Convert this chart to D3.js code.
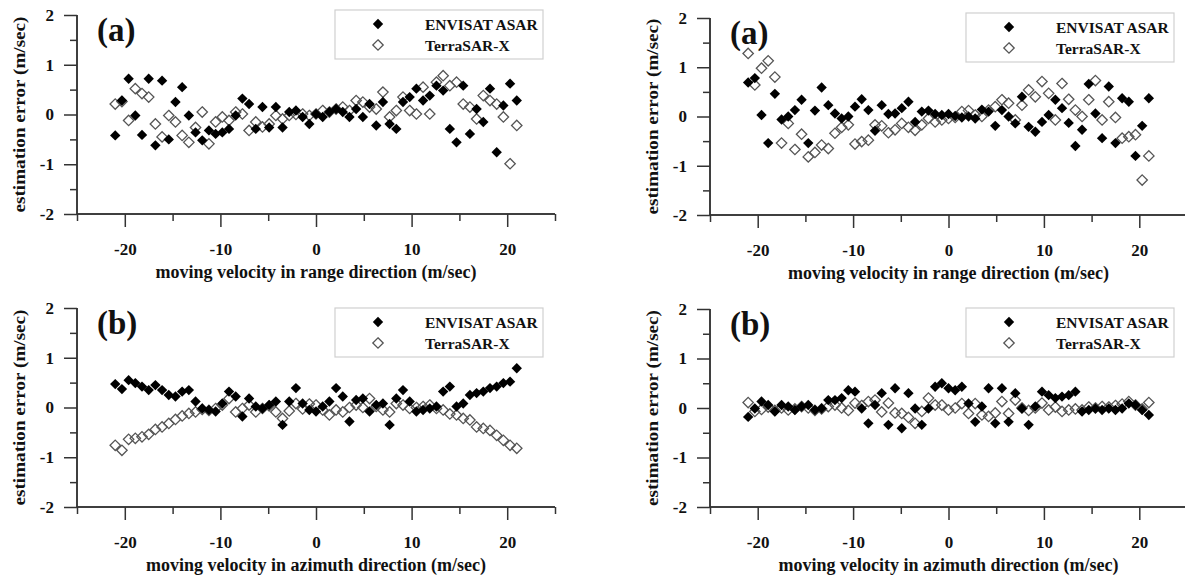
<!DOCTYPE html>
<html>
<head>
<meta charset="utf-8">
<script src="https://cdn.jsdelivr.net/npm/d3@7"></script>
<style>
	body { margin: 0; background: #fff; }
	svg text { font-family: "Liberation Serif", "Times New Roman", serif; font-weight: bold; fill: #111; }
	.axis path, .axis line { stroke: #333; stroke-width: 1.5; }
	.legend-box { fill: #fff; stroke: #d0d0d0; stroke-width: 1.2; }
</style>
</head>
<body>
<svg id="chart" width="1185" height="583"></svg>
<script>
// moving velocity of the simulated targets (m/sec), shared by every panel
const velocity = [-21.0, -20.3, -19.6, -18.9, -18.2, -17.5, -16.8, -16.1, -15.4, -14.7,
	-14.0, -13.3, -12.6, -11.9, -11.2, -10.5, -9.8, -9.1, -8.4, -7.7,
	-7.0, -6.3, -5.6, -4.9, -4.2, -3.5, -2.8, -2.1, -1.4, -0.7,
	0.0, 0.7, 1.4, 2.1, 2.8, 3.5, 4.2, 4.9, 5.6, 6.3,
	7.0, 7.7, 8.4, 9.1, 9.8, 10.5, 11.2, 11.9, 12.6, 13.3,
	14.0, 14.7, 15.4, 16.1, 16.8, 17.5, 18.2, 18.9, 19.6, 20.3, 21.0];

// estimation error (m/sec) - range direction, left panel
const rangeEnvisatL = [-0.42, 0.28, 0.72, -0.02, -0.41, 0.72, -0.62, 0.68, -0.50, 0.25,
	0.55, -0.02, -0.36, -0.52, -0.32, -0.39, -0.36, -0.29, -0.02, 0.32,
	0.21, -0.29, 0.15, -0.26, 0.15, -0.26, 0.05, 0.08, -0.05, -0.19,
	0.01, -0.05, 0.05, 0.11, 0.05, -0.05, 0.11, -0.05, 0.21, -0.22,
	0.25, -0.19, -0.29, 0.25, 0.35, 0.52, 0.28, 0.38, 0.58, 0.48,
	-0.29, -0.56, 0.58, -0.39, 0.11, -0.15, 0.52, -0.76, 0.18, 0.62, 0.28];
const rangeTerraL = [0.21, 0.26, -0.12, 0.52, 0.42, 0.35, -0.19, -0.45, -0.02, -0.15,
	-0.42, -0.56, -0.26, 0.05, -0.59, -0.15, -0.05, -0.12, 0.05, 0.01,
	-0.32, -0.15, -0.25, -0.19, -0.02, -0.09, -0.02, 0.00, 0.01, -0.02,
	0.01, 0.08, 0.05, 0.11, 0.15, 0.08, 0.28, 0.25, 0.15, 0.11,
	0.45, -0.05, 0.08, 0.35, 0.08, 0.01, 0.55, 0.01, 0.65, 0.78,
	0.58, 0.65, 0.21, 0.15, -0.09, 0.38, 0.28, 0.21, -0.05, -0.99, -0.22];

// range direction, right panel
const rangeEnvisatR = [0.69, 0.78, 0.03, -0.54, 0.46, -0.06, 0.00, 0.13, 0.34, -0.54,
	0.12, 0.59, 0.23, 0.06, -0.04, 0.00, 0.20, 0.35, 0.13, -0.29,
	0.23, 0.05, 0.06, 0.17, 0.30, -0.11, 0.10, 0.12, 0.05, 0.03,
	0.05, 0.01, -0.02, 0.00, -0.04, 0.14, 0.10, -0.19, 0.13, 0.00,
	-0.14, 0.40, -0.21, -0.31, -0.11, 0.03, 0.34, 0.17, -0.13, -0.60,
	-0.27, 0.66, 0.06, -0.44, 0.61, -0.54, 0.37, 0.30, -0.80, -0.19, 0.37];
const rangeTerraR = [1.28, 0.64, 0.98, 1.13, 0.80, -0.54, -0.14, -0.67, -0.36, -0.82,
	-0.73, -0.58, -0.65, -0.34, -0.22, -0.17, -0.56, -0.51, -0.48, -0.17,
	-0.19, -0.33, -0.27, -0.14, -0.22, -0.28, -0.17, -0.04, -0.11, -0.07,
	-0.04, -0.02, 0.10, 0.12, 0.03, 0.00, 0.13, 0.20, 0.34, 0.27,
	-0.07, 0.23, 0.54, 0.40, 0.71, 0.47, -0.07, 0.67, 0.35, 0.13,
	0.00, 0.34, 0.73, -0.07, 0.30, -0.02, -0.44, -0.41, -0.37, -1.29, -0.80];

// azimuth direction, left panel
const azimuthEnvisatL = [0.47, 0.37, 0.55, 0.49, 0.42, 0.35, 0.45, 0.35, 0.25, 0.22,
	0.32, 0.35, 0.12, -0.02, -0.05, -0.08, 0.08, 0.32, 0.22, -0.18,
	0.18, 0.02, -0.02, 0.05, 0.12, -0.35, 0.12, 0.39, 0.08, -0.05,
	-0.08, 0.02, 0.12, 0.39, 0.22, -0.28, 0.15, 0.18, -0.08, 0.05,
	0.08, -0.35, 0.18, 0.35, 0.12, -0.08, -0.05, -0.02, 0.02, 0.32,
	0.42, 0.02, 0.08, 0.25, 0.29, 0.32, 0.39, 0.42, 0.49, 0.52, 0.79];
const azimuthTerraL = [-0.76, -0.86, -0.64, -0.62, -0.59, -0.54, -0.44, -0.39, -0.32, -0.24,
	-0.17, -0.12, -0.09, -0.04, -0.06, -0.02, 0.05, 0.18, -0.09, -0.02,
	0.05, -0.09, -0.02, 0.03, -0.09, -0.22, -0.07, 0.08, -0.03, 0.07,
	0.05, -0.05, -0.15, -0.05, -0.09, 0.00, 0.05, 0.00, 0.18, 0.02,
	-0.05, -0.09, 0.08, 0.05, -0.02, 0.00, 0.02, 0.05, -0.02, -0.05,
	-0.13, -0.15, -0.22, -0.25, -0.39, -0.42, -0.46, -0.56, -0.66, -0.76, -0.82];

// azimuth direction, right panel
const azimuthEnvisatR = [-0.18, -0.01, 0.13, 0.06, -0.07, 0.06, 0.03, -0.04, 0.03, 0.06,
	-0.04, -0.01, 0.16, 0.16, 0.20, 0.36, 0.33, -0.01, -0.31, 0.06,
	0.30, -0.34, 0.40, -0.41, 0.30, -0.01, -0.34, -0.01, 0.43, 0.50,
	0.40, 0.36, 0.43, 0.09, -0.28, 0.03, 0.40, -0.31, 0.40, -0.28,
	0.30, -0.01, -0.34, 0.03, 0.33, 0.26, 0.20, 0.23, 0.26, 0.33,
	-0.07, -0.04, -0.01, -0.04, -0.01, -0.04, -0.01, 0.09, 0.06, -0.04, -0.14];
const azimuthTerraR = [0.11, -0.07, -0.03, 0.02, -0.05, 0.00, -0.04, -0.02, 0.03, 0.00,
	-0.05, -0.02, 0.03, 0.06, 0.00, -0.05, 0.10, 0.05, 0.13, 0.16,
	-0.08, 0.10, -0.10, -0.11, -0.19, -0.31, -0.07, 0.20, 0.06, 0.06,
	-0.04, 0.00, 0.09, -0.11, 0.09, -0.14, -0.17, -0.10, 0.13, -0.11,
	0.16, 0.00, -0.05, 0.00, 0.10, -0.04, 0.02, -0.07, -0.04, -0.02,
	-0.04, 0.02, 0.00, 0.03, 0.02, 0.05, 0.08, 0.13, 0.06, -0.02, 0.11];

const seriesNames = ['ENVISAT ASAR', 'TerraSAR-X'];
const xMajorTicks = [-20, -10, 0, 10, 20];
const xMinorTicks = [-25, -15, -5, 5, 15, 25];
const yMajorTicks = [-2, -1, 0, 1, 2];
const yMinorTicks = [-1.5, -0.5, 0.5, 1.5];

const svg = d3.select('#chart');

// square diamond (rotated square) like the original markers
const squareDiamond = {
	draw(context, size) {
		const r = Math.sqrt(size / 2);
		context.moveTo(0, -r);
		context.lineTo(r, 0);
		context.lineTo(0, r);
		context.lineTo(-r, 0);
		context.closePath();
	}
};
const marker = d3.symbol().type(squareDiamond).size(54);

function drawPanel(p) {
	const x = d3.scaleLinear().domain([-25, 25]).range([p.left, p.right]);
	const y = d3.scaleLinear().domain([-2, 2]).range([p.bottom, p.top]);
	const g = svg.append('g');
	const fmt = d => String(d); // plain hyphen minus, like the original

	//axes: minor ticks first, then major ticks with labels
	g.append('g').attr('class', 'axis x')
		.attr('transform', 'translate(0,' + p.bottom + ')')
		.call(d3.axisBottom(x).tickValues(xMinorTicks).tickSize(7).tickFormat(''));
	g.append('g').attr('class', 'axis x')
		.attr('transform', 'translate(0,' + p.bottom + ')')
		.call(d3.axisBottom(x).tickValues(xMajorTicks).tickFormat(fmt).tickSize(13).tickSizeOuter(0).tickPadding(16))
		.selectAll('text').attr('font-size', 17);
	g.append('g').attr('class', 'axis y')
		.attr('transform', 'translate(' + p.left + ',0)')
		.call(d3.axisLeft(y).tickValues(yMinorTicks).tickSize(7).tickFormat(''));
	g.append('g').attr('class', 'axis y')
		.attr('transform', 'translate(' + p.left + ',0)')
		.call(d3.axisLeft(y).tickValues(yMajorTicks).tickFormat(fmt).tickSize(13).tickSizeOuter(0).tickPadding(10))
		.selectAll('text').attr('font-size', 17);
	g.selectAll('.axis').attr('font-family', null).attr('font-size', null);
	g.selectAll('.axis.x path.domain').attr('d', 'M' + x(-25) + ',0H' + x(25));
	g.selectAll('.axis.y path.domain').attr('d', 'M0,' + y(2) + 'V' + y(-2));

	//titles
	g.append('text')
		.attr('x', x(0)).attr('y', p.bottom + 64)
		.attr('text-anchor', 'middle').attr('font-size', 18)
		.text(p.xTitle);
	g.append('text')
		.attr('transform', 'translate(' + (p.left - 52) + ',' + y(0) + ') rotate(-90)')
		.attr('text-anchor', 'middle').attr('font-size', 17)
		.attr('textLength', 196).attr('lengthAdjust', 'spacingAndGlyphs')
		.text('estimation error (m/sec)');
	g.append('text')
		.attr('x', p.left + 20).attr('y', p.top + 26)
		.attr('font-size', 33)
		.text(p.label);

	//points: hollow first, filled on top
	g.append('g').selectAll('path')
		.data(velocity.map((v, i) => [v, p.terra[i]]))
		.join('path')
		.attr('d', marker)
		.attr('transform', d => 'translate(' + x(d[0]) + ',' + y(d[1]) + ')')
		.attr('fill', 'none')
		.attr('stroke', '#555')
		.attr('stroke-width', 1.3);
	g.append('g').selectAll('path')
		.data(velocity.map((v, i) => [v, p.envisat[i]]))
		.join('path')
		.attr('d', marker)
		.attr('transform', d => 'translate(' + x(d[0]) + ',' + y(d[1]) + ')')
		.attr('fill', '#000');

	//legend
	const lg = g.append('g').attr('transform', 'translate(' + p.legendX + ',' + p.legendY + ')');
	lg.append('rect').attr('class', 'legend-box')
		.attr('width', 208).attr('height', 49);
	seriesNames.forEach(function(name, i) {
		lg.append('path')
			.attr('d', marker)
			.attr('transform', 'translate(43,' + (14 + i * 21) + ')')
			.attr('fill', i === 0 ? '#000' : 'none')
			.attr('stroke', i === 0 ? 'none' : '#555')
			.attr('stroke-width', 1.3);
		lg.append('text')
			.attr('x', 90).attr('y', 20 + i * 21)
			.attr('font-size', 15.5)
			.text(name);
	});
}

drawPanel({ left: 77, right: 555, top: 15, bottom: 214, label: '(a)',
	xTitle: 'moving velocity in range direction (m/sec)', legendX: 335, legendY: 10,
	envisat: rangeEnvisatL, terra: rangeTerraL });
drawPanel({ left: 710, right: 1187, top: 18, bottom: 215, label: '(a)',
	xTitle: 'moving velocity in range direction (m/sec)', legendX: 966, legendY: 13,
	envisat: rangeEnvisatR, terra: rangeTerraR });
drawPanel({ left: 77, right: 555, top: 308, bottom: 507, label: '(b)',
	xTitle: 'moving velocity in azimuth direction (m/sec)', legendX: 335, legendY: 308,
	envisat: azimuthEnvisatL, terra: azimuthTerraL });
drawPanel({ left: 710, right: 1187, top: 309, bottom: 507, label: '(b)',
	xTitle: 'moving velocity in azimuth direction (m/sec)', legendX: 966, legendY: 308,
	envisat: azimuthEnvisatR, terra: azimuthTerraR });
</script>
</body>
</html>
